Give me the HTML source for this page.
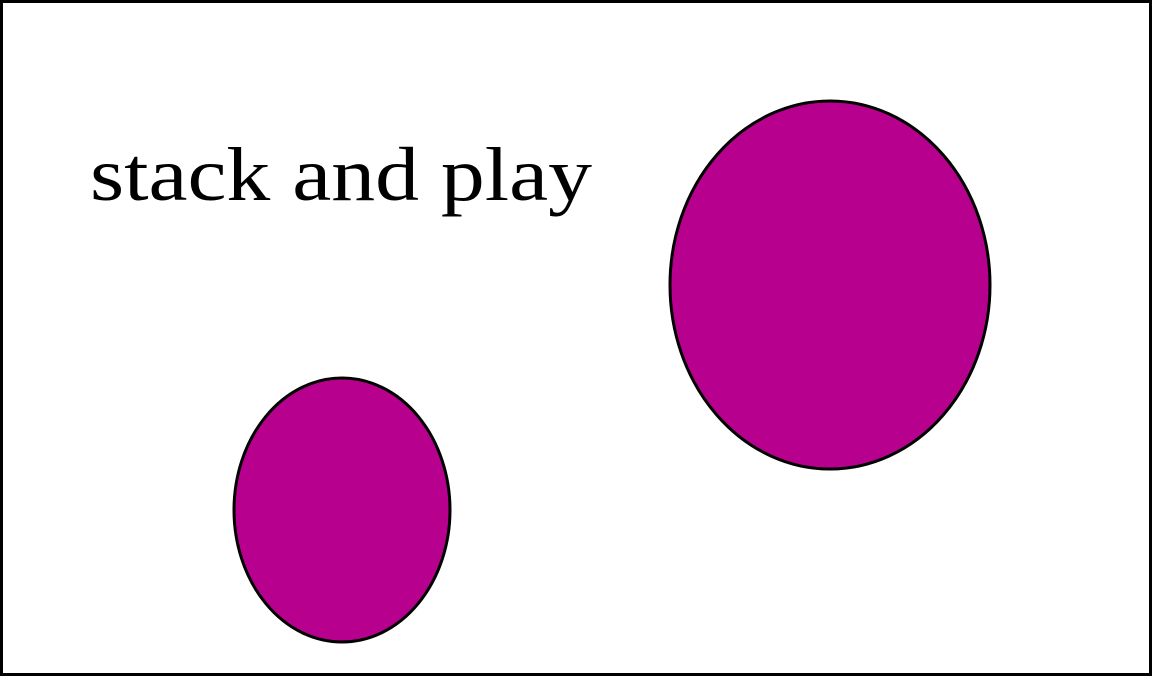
<!DOCTYPE html>
<html><head><meta charset="utf-8"><style>
html,body{margin:0;padding:0;background:#fff;}
svg{display:block;}
</style></head><body>
<svg width="1152" height="676" viewBox="0 0 1152 676">
<rect x="1.5" y="1.5" width="1149" height="673" fill="#fff" stroke="#000" stroke-width="3"/>
<text x="90" y="200" font-family="Liberation Serif, serif" font-size="76" textLength="502" lengthAdjust="spacingAndGlyphs" fill="#000">stack and play</text>
<ellipse cx="830" cy="285" rx="160" ry="184" fill="#b8008e" stroke="#000" stroke-width="3"/>
<ellipse cx="342" cy="510" rx="108" ry="132" fill="#b8008e" stroke="#000" stroke-width="3"/>
</svg>
</body></html>
